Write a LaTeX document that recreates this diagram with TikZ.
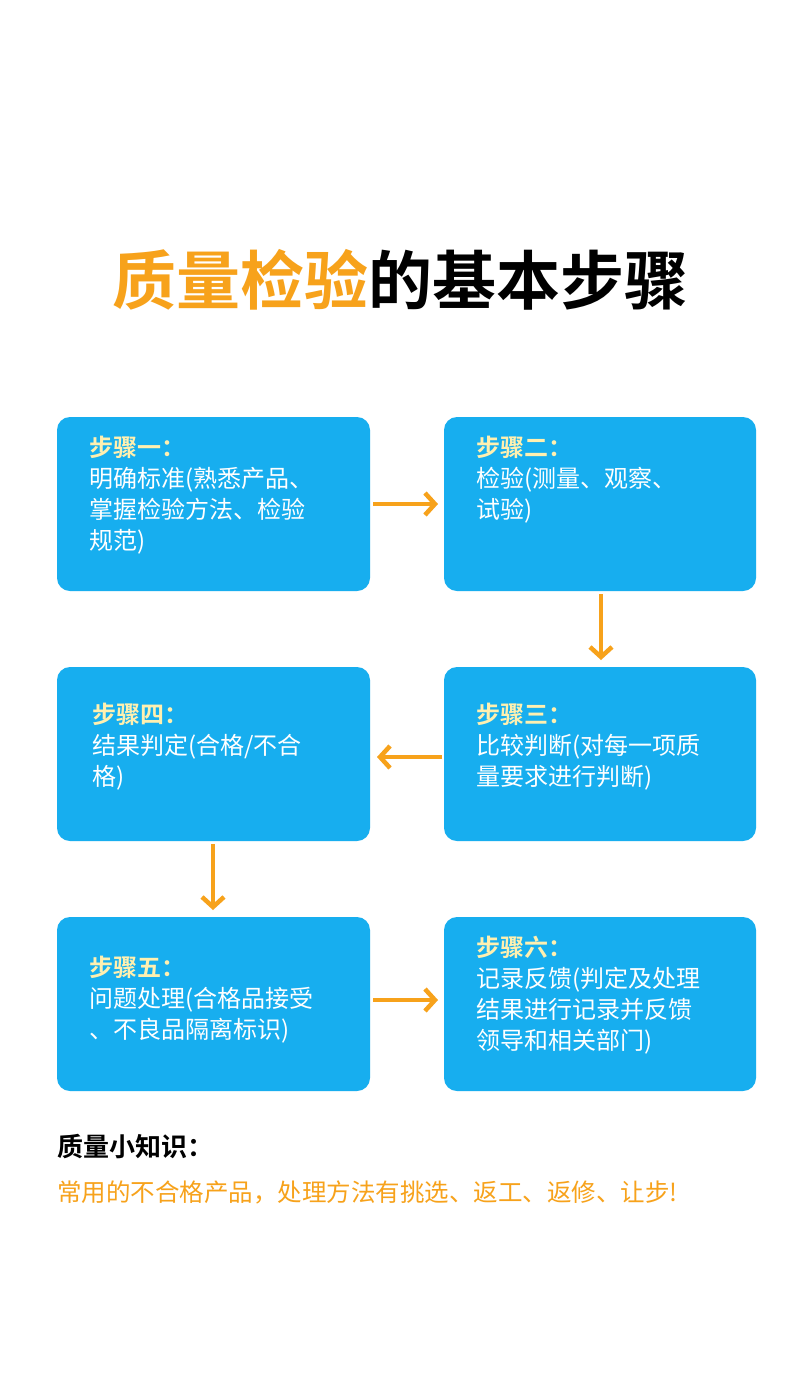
\documentclass[tikz,border=0pt]{standalone}
\usepackage{fontspec}
\setmainfont{Noto Sans CJK SC}
\newfontfamily\cjkb{Noto Sans CJK SC Bold}
\usetikzlibrary{arrows.meta}
\definecolor{boxc}{HTML}{17AEEF}
\definecolor{orng}{HTML}{F7A21B}
\definecolor{ttl}{HTML}{FFF0B0}
\begin{document}
\begin{tikzpicture}[x=1pt,y=-1pt,
  box/.style={fill=boxc,rounded corners=13pt,draw=none},
  txt/.style={anchor=north west,align=left,text=white,inner sep=0pt,font=\fontsize{24}{31}\selectfont},
  arr/.style={draw=orng,line width=4.5pt,-{Straight Barb[length=10pt,width=22pt,line width=4.5pt]}}]
\useasboundingbox (0,0) rectangle (800,1400);
\fill[white] (0,0) rectangle (800,1400);
\node[inner sep=0pt,font=\cjkb\fontsize{64}{70}\selectfont] (title) at (400,280) {\textcolor{orng}{质量检验}的基本步骤};
% boxes
\path[box] (57,417) rectangle (370,591) coordinate (b1e);
\node (b1) at (213,504) {};
\path[box] (444,417) rectangle (756,591);
\node (b2) at (600,504) {};
\path[box] (444,667) rectangle (756,841);
\node (b3) at (600,754) {};
\path[box] (57,667) rectangle (370,841);
\node (b4) at (213,754) {};
\path[box] (57,917) rectangle (370,1091);
\node (b5) at (213,1004) {};
\path[box] (444,917) rectangle (756,1091);
\node (b6) at (600,1004) {};
% texts
\node[txt] (t1) at (89,436) {{\cjkb\textcolor{ttl}{步骤一：}}\\明确标准(熟悉产品、\\掌握检验方法、检验\\规范)};
\node[txt] (t2) at (476,436) {{\cjkb\textcolor{ttl}{步骤二：}}\\检验(测量、观察、\\试验)};
\node[txt] (t3) at (476,703) {{\cjkb\textcolor{ttl}{步骤三：}}\\比较判断(对每一项质\\量要求进行判断)};
\node[txt] (t4) at (92,703) {{\cjkb\textcolor{ttl}{步骤四：}}\\结果判定(合格/不合\\格)};
\node[txt] (t5) at (89,956) {{\cjkb\textcolor{ttl}{步骤五：}}\\问题处理(合格品接受\\、不良品隔离标识)};
\node[txt] (t6) at (476,936) {{\cjkb\textcolor{ttl}{步骤六：}}\\记录反馈(判定及处理\\结果进行记录并反馈\\领导和相关部门)};
% arrows
\coordinate (a1s) at (373,504); \coordinate (a1e) at (438,504);
\coordinate (a2s) at (601,594); \coordinate (a2e) at (601,660);
\coordinate (a3s) at (442,757); \coordinate (a3e) at (377,757);
\coordinate (a4s) at (213,844); \coordinate (a4e) at (213,910);
\coordinate (a5s) at (373,1000); \coordinate (a5e) at (438,1000);
\draw[arr] (a1s) -- (a1e);
\draw[arr] (a2s) -- (a2e);
\draw[arr] (a3s) -- (a3e);
\draw[arr] (a4s) -- (a4e);
\draw[arr] (a5s) -- (a5e);
% bottom
\node[anchor=west,inner sep=0pt,font=\cjkb\fontsize{26}{30}\selectfont] (k) at (57,1147) {质量小知识：};
\node[anchor=west,inner sep=0pt,text=orng,font=\fontsize{24.5}{30}\selectfont] (k2) at (57,1192) {常用的不合格产品，处理方法有挑选、返工、返修、让步!};
\end{tikzpicture}
\end{document}
